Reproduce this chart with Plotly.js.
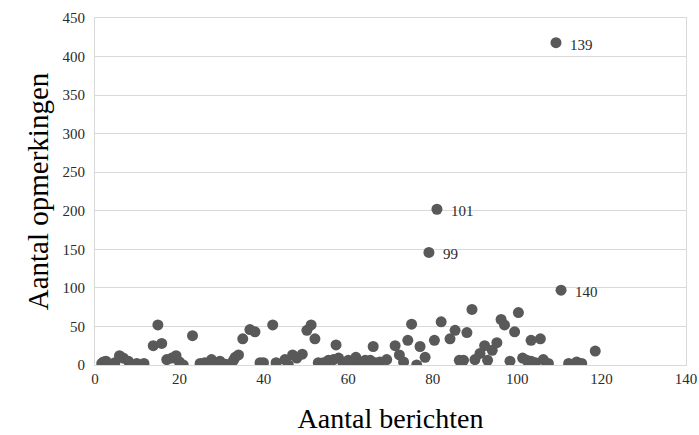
<!DOCTYPE html>
<html>
<head>
<meta charset="utf-8">
<script src="https://cdn.plot.ly/plotly-3.0.1.min.js"></script>
<style>html,body{margin:0;padding:0;background:#fff;}#chart{width:699px;height:435px;}</style>
</head>
<body>
<div id="chart"></div>
<script>
// Aantal berichten (x) and Aantal opmerkingen (y)
const berichten = [
  1.6, 2.0, 2.6, 4.7, 5.8, 6.7, 7.9, 8.9, 9.9, 11.6,
  13.8, 14.9, 15.8, 17.0, 18.2, 19.2, 20.0, 20.9, 23.1, 24.9,
  26.0, 27.6, 28.8, 29.6, 31.0, 32.8, 33.2, 34.0, 35.0, 36.7,
  37.9, 39.1, 39.9, 42.1, 42.9, 45.0, 45.8, 46.8, 47.8, 49.1,
  50.2, 51.2, 52.1, 52.9, 54.1, 55.3, 56.5, 57.1, 57.7, 58.8,
  60.0, 60.8, 61.8, 62.8, 64.0, 65.2, 65.9, 66.4, 67.5, 69.1,
  71.1, 72.1, 73.1, 74.1, 75.0, 76.2, 77.0, 78.2, 79.1, 80.4,
  81.0, 82.0, 84.1, 85.3, 86.3, 87.3, 88.1, 89.3, 90.0, 91.2,
  92.3, 93.0, 94.1, 95.2, 96.2, 97.0, 98.3, 99.4, 100.3, 101.3,
  102.3, 103.3, 103.3, 104.3, 105.5, 106.2, 107.4, 109.2, 110.4, 112.2,
  114.1, 115.3, 118.5
];
const opmerkingen = [
  2, 4, 5, 3, 12, 9, 5, 0, 2, 2,
  25, 52, 28, 7, 9, 12, 4, 0, 38, 2,
  3, 7, 3, 5, 1, 6, 10, 13, 34, 46,
  43, 3, 3, 52, 3, 7, 0, 13, 9, 14,
  45, 52, 34, 3, 3, 6, 7, 26, 9, 1,
  6, 4, 10, 1, 6, 6, 24, 3, 4, 7,
  25, 13, 4, 32, 53, 0, 24, 10, 146, 32,
  202, 56, 34, 45, 6, 6, 42, 72, 7, 15,
  25, 6, 19, 29, 59, 52, 5, 43, 68, 9,
  6, 5, 32, 3, 34, 7, 2, 418, 97, 2,
  4, 2, 18
];
// Labelled outliers
const labelX = [109.2, 81.0, 79.1, 110.4];
const labelY = [418, 202, 146, 97];
const labelText = ['139', '101', '99', '140'];

const yTicks = [0, 50, 100, 150, 200, 250, 300, 350, 400, 450];
const xTicks = [0, 20, 40, 60, 80, 100, 120, 140];

const serif = 'Liberation Serif';

const trace = {
  x: berichten,
  y: opmerkingen,
  type: 'scatter',
  mode: 'markers',
  marker: {color: '#595959', size: 11, line: {width: 0}},
  hoverinfo: 'x+y'
};

const annotations = labelX.map((x, i) => ({
  x: x, y: labelY[i], text: labelText[i],
  xref: 'x', yref: 'y', showarrow: false,
  xanchor: 'left', yanchor: 'middle', xshift: 12, yshift: -2,
  font: {family: serif, size: 15, color: '#2b2b2b'}
}));

const layout = {
  width: 699, height: 435,
  margin: {l: 95, r: 13, t: 18, b: 70},
  paper_bgcolor: '#ffffff', plot_bgcolor: '#ffffff',
  showlegend: false,
  font: {family: serif, color: '#2b2b2b'},
  xaxis: {
    range: [0, 140], tickvals: xTicks, ticktext: xTicks.map(String),
    showgrid: false, zeroline: false,
    showline: true, mirror: true, linecolor: '#d9d9d9', linewidth: 1,
    ticks: '', tickfont: {family: serif, size: 15, color: '#2b2b2b'},
    title: {text: 'Aantal berichten', font: {family: serif, size: 28, color: '#000000'}, standoff: 22}
  },
  yaxis: {
    range: [0, 450], tickvals: yTicks, ticktext: yTicks.map(String),
    showgrid: true, gridcolor: '#d9d9d9', gridwidth: 1,
    zeroline: false,
    showline: true, mirror: true, linecolor: '#d9d9d9', linewidth: 1,
    ticks: '', tickfont: {family: serif, size: 15, color: '#2b2b2b'},
    ticklabelstandoff: 6,
    title: {text: 'Aantal opmerkingen', font: {family: serif, size: 29, color: '#000000'}, standoff: 5}
  },
  annotations: annotations
};

Plotly.newPlot('chart', [trace], layout, {displayModeBar: false, staticPlot: true});
</script>
</body>
</html>
